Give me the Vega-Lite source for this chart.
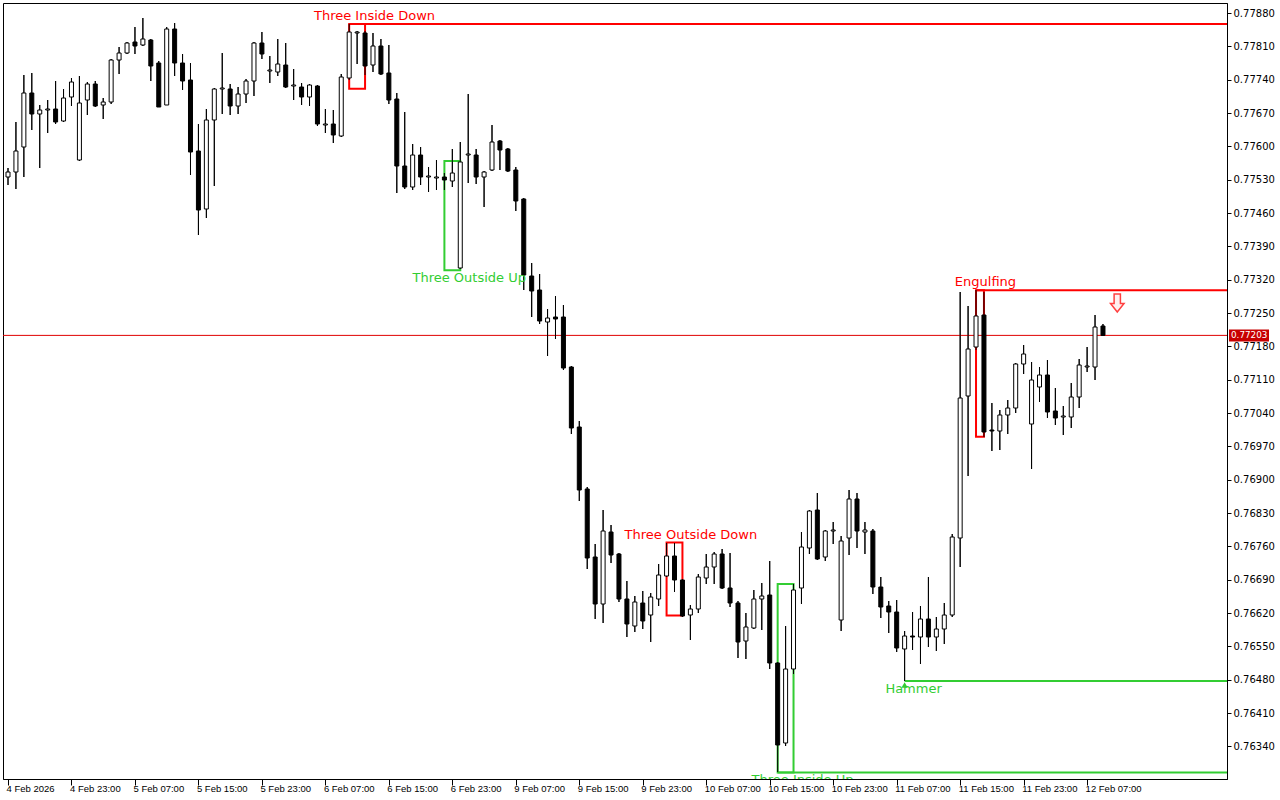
{
  "$schema": "https://vega.github.io/schema/vega-lite/v6.json",
  "width": 1224,
  "height": 776,
  "autosize": {"type": "none"},
  "padding": {"left": 3, "top": 3, "right": 53, "bottom": 21},
  "background": "white",
  "config": {
    "view": {"stroke": "black", "strokeWidth": 1},
    "axis": {"domainWidth": 1, "tickWidth": 1, "domainColor": "black", "tickColor": "black", "grid": false, "labelOverlap": false}
  },
  "datasets": {
    "candles": [
      {"i":0,"open":0.775356,"high":0.775545,"low":0.775188,"close":0.775461},
      {"i":1,"open":0.775461,"high":0.776511,"low":0.775104,"close":0.775902},
      {"i":2,"open":0.775986,"high":0.777498,"low":0.775356,"close":0.777120},
      {"i":3,"open":0.777120,"high":0.777540,"low":0.776343,"close":0.776679},
      {"i":4,"open":0.776679,"high":0.776868,"low":0.775545,"close":0.776763},
      {"i":5,"open":0.776763,"high":0.776973,"low":0.776280,"close":0.776784},
      {"i":6,"open":0.776784,"high":0.777372,"low":0.776469,"close":0.776511},
      {"i":7,"open":0.776532,"high":0.777204,"low":0.776511,"close":0.777015},
      {"i":8,"open":0.777036,"high":0.777435,"low":0.776847,"close":0.777351},
      {"i":9,"open":0.775713,"high":0.777477,"low":0.775692,"close":0.776910},
      {"i":10,"open":0.776973,"high":0.777351,"low":0.776658,"close":0.777309},
      {"i":11,"open":0.777309,"high":0.777372,"low":0.776826,"close":0.776847},
      {"i":12,"open":0.776868,"high":0.777015,"low":0.776574,"close":0.776931},
      {"i":13,"open":0.776931,"high":0.777834,"low":0.776889,"close":0.777813},
      {"i":14,"open":0.777813,"high":0.778086,"low":0.777519,"close":0.777960},
      {"i":15,"open":0.777960,"high":0.778191,"low":0.777939,"close":0.778170},
      {"i":16,"open":0.778191,"high":0.778506,"low":0.777939,"close":0.778107},
      {"i":17,"open":0.778128,"high":0.778695,"low":0.778107,"close":0.778254},
      {"i":18,"open":0.778233,"high":0.778254,"low":0.777372,"close":0.777687},
      {"i":19,"open":0.777750,"high":0.777792,"low":0.776826,"close":0.776826},
      {"i":20,"open":0.776868,"high":0.778506,"low":0.776868,"close":0.778464},
      {"i":21,"open":0.778464,"high":0.778590,"low":0.777477,"close":0.777750},
      {"i":22,"open":0.777750,"high":0.777939,"low":0.777183,"close":0.777372},
      {"i":23,"open":0.777393,"high":0.777750,"low":0.775398,"close":0.775881},
      {"i":24,"open":0.775902,"high":0.776469,"low":0.774138,"close":0.774663},
      {"i":25,"open":0.774684,"high":0.776784,"low":0.774495,"close":0.776553},
      {"i":26,"open":0.776553,"high":0.777225,"low":0.775167,"close":0.777204},
      {"i":27,"open":0.777204,"high":0.777960,"low":0.776679,"close":0.777225},
      {"i":28,"open":0.777204,"high":0.777309,"low":0.776658,"close":0.776847},
      {"i":29,"open":0.776847,"high":0.777246,"low":0.776679,"close":0.777099},
      {"i":30,"open":0.777099,"high":0.777414,"low":0.776910,"close":0.777372},
      {"i":31,"open":0.777372,"high":0.778191,"low":0.777057,"close":0.778170},
      {"i":32,"open":0.778170,"high":0.778401,"low":0.777834,"close":0.777939},
      {"i":33,"open":0.777582,"high":0.777897,"low":0.777330,"close":0.777603},
      {"i":34,"open":0.777561,"high":0.778254,"low":0.777477,"close":0.777729},
      {"i":35,"open":0.777708,"high":0.778170,"low":0.777225,"close":0.777246},
      {"i":36,"open":0.777267,"high":0.777624,"low":0.776973,"close":0.777288},
      {"i":37,"open":0.777246,"high":0.777330,"low":0.776868,"close":0.777036},
      {"i":38,"open":0.777036,"high":0.777309,"low":0.776847,"close":0.777288},
      {"i":39,"open":0.777267,"high":0.777288,"low":0.776427,"close":0.776469},
      {"i":40,"open":0.776448,"high":0.776784,"low":0.776280,"close":0.776469},
      {"i":41,"open":0.776469,"high":0.776763,"low":0.776070,"close":0.776238},
      {"i":42,"open":0.776217,"high":0.777519,"low":0.776196,"close":0.777456},
      {"i":43,"open":0.777435,"high":0.778569,"low":0.777393,"close":0.778401},
      {"i":44,"open":0.778380,"high":0.778422,"low":0.777729,"close":0.778401},
      {"i":45,"open":0.778380,"high":0.778422,"low":0.777498,"close":0.777687},
      {"i":46,"open":0.777708,"high":0.778380,"low":0.777561,"close":0.778107},
      {"i":47,"open":0.778107,"high":0.778254,"low":0.777498,"close":0.777519},
      {"i":48,"open":0.777540,"high":0.778128,"low":0.776889,"close":0.776973},
      {"i":49,"open":0.776994,"high":0.777120,"low":0.775020,"close":0.775587},
      {"i":50,"open":0.775587,"high":0.776721,"low":0.775104,"close":0.775146},
      {"i":51,"open":0.775146,"high":0.776049,"low":0.775083,"close":0.775818},
      {"i":52,"open":0.775818,"high":0.775986,"low":0.775188,"close":0.775356},
      {"i":53,"open":0.775356,"high":0.775566,"low":0.775041,"close":0.775377},
      {"i":54,"open":0.775335,"high":0.775713,"low":0.775083,"close":0.775356},
      {"i":55,"open":0.775356,"high":0.775440,"low":0.775083,"close":0.775293},
      {"i":56,"open":0.775272,"high":0.775944,"low":0.775146,"close":0.775440},
      {"i":57,"open":0.773445,"high":0.776091,"low":0.773424,"close":0.775671},
      {"i":58,"open":0.775818,"high":0.777099,"low":0.775230,"close":0.775839},
      {"i":59,"open":0.775818,"high":0.775944,"low":0.775209,"close":0.775356},
      {"i":60,"open":0.775356,"high":0.775482,"low":0.774726,"close":0.775461},
      {"i":61,"open":0.775503,"high":0.776448,"low":0.775482,"close":0.776091},
      {"i":62,"open":0.776112,"high":0.776133,"low":0.775503,"close":0.775923},
      {"i":63,"open":0.775944,"high":0.775965,"low":0.775461,"close":0.775482},
      {"i":64,"open":0.775503,"high":0.775566,"low":0.774642,"close":0.774852},
      {"i":65,"open":0.774894,"high":0.774915,"low":0.772983,"close":0.773298},
      {"i":66,"open":0.773277,"high":0.773550,"low":0.772416,"close":0.772962},
      {"i":67,"open":0.772983,"high":0.773319,"low":0.772269,"close":0.772332},
      {"i":68,"open":0.772311,"high":0.772584,"low":0.771597,"close":0.772395},
      {"i":69,"open":0.772416,"high":0.772857,"low":0.771954,"close":0.772374},
      {"i":70,"open":0.772416,"high":0.772668,"low":0.771303,"close":0.771345},
      {"i":71,"open":0.771366,"high":0.771387,"low":0.769959,"close":0.770085},
      {"i":72,"open":0.770106,"high":0.770232,"low":0.768552,"close":0.768783},
      {"i":73,"open":0.768804,"high":0.768846,"low":0.767124,"close":0.767355},
      {"i":74,"open":0.767376,"high":0.767649,"low":0.766074,"close":0.766389},
      {"i":75,"open":0.766389,"high":0.768363,"low":0.765990,"close":0.767922},
      {"i":76,"open":0.767901,"high":0.768048,"low":0.767250,"close":0.767418},
      {"i":77,"open":0.767439,"high":0.767460,"low":0.766431,"close":0.766494},
      {"i":78,"open":0.766494,"high":0.766872,"low":0.765696,"close":0.765969},
      {"i":79,"open":0.765927,"high":0.766557,"low":0.765801,"close":0.766431},
      {"i":80,"open":0.766410,"high":0.766662,"low":0.765864,"close":0.766032},
      {"i":81,"open":0.766158,"high":0.766620,"low":0.765591,"close":0.766536},
      {"i":82,"open":0.766494,"high":0.767229,"low":0.766347,"close":0.766998},
      {"i":83,"open":0.766977,"high":0.767670,"low":0.766956,"close":0.767397},
      {"i":84,"open":0.767397,"high":0.767670,"low":0.766641,"close":0.766893},
      {"i":85,"open":0.766893,"high":0.766914,"low":0.766116,"close":0.766137},
      {"i":86,"open":0.766158,"high":0.766368,"low":0.765633,"close":0.766284},
      {"i":87,"open":0.766284,"high":0.767019,"low":0.766200,"close":0.766956},
      {"i":88,"open":0.766935,"high":0.767439,"low":0.766809,"close":0.767166},
      {"i":89,"open":0.767166,"high":0.767481,"low":0.766809,"close":0.767439},
      {"i":90,"open":0.767439,"high":0.767544,"low":0.766704,"close":0.766725},
      {"i":91,"open":0.766725,"high":0.767460,"low":0.766326,"close":0.766410},
      {"i":92,"open":0.766410,"high":0.766452,"low":0.765255,"close":0.765591},
      {"i":93,"open":0.765612,"high":0.766200,"low":0.765234,"close":0.765906},
      {"i":94,"open":0.765885,"high":0.766683,"low":0.765864,"close":0.766494},
      {"i":95,"open":0.766494,"high":0.766830,"low":0.765843,"close":0.766557},
      {"i":96,"open":0.766578,"high":0.767292,"low":0.765024,"close":0.765150},
      {"i":97,"open":0.765150,"high":0.765171,"low":0.762861,"close":0.763428},
      {"i":98,"open":0.763470,"high":0.765927,"low":0.763407,"close":0.765024},
      {"i":99,"open":0.765024,"high":0.766809,"low":0.764919,"close":0.766683},
      {"i":100,"open":0.766725,"high":0.767901,"low":0.766389,"close":0.767586},
      {"i":101,"open":0.767565,"high":0.768363,"low":0.767439,"close":0.768342},
      {"i":102,"open":0.768363,"high":0.768720,"low":0.767313,"close":0.767334},
      {"i":103,"open":0.767376,"high":0.767943,"low":0.767292,"close":0.767922},
      {"i":104,"open":0.767922,"high":0.768111,"low":0.767649,"close":0.767943},
      {"i":105,"open":0.766053,"high":0.767817,"low":0.765822,"close":0.767712},
      {"i":106,"open":0.767775,"high":0.768783,"low":0.767418,"close":0.768594},
      {"i":107,"open":0.768594,"high":0.768720,"low":0.767565,"close":0.767922},
      {"i":108,"open":0.767901,"high":0.768111,"low":0.767439,"close":0.767943},
      {"i":109,"open":0.767922,"high":0.767964,"low":0.766599,"close":0.766746},
      {"i":110,"open":0.766746,"high":0.766956,"low":0.766095,"close":0.766326},
      {"i":111,"open":0.766347,"high":0.766452,"low":0.765780,"close":0.766221},
      {"i":112,"open":0.766221,"high":0.766473,"low":0.765381,"close":0.765465},
      {"i":113,"open":0.765444,"high":0.765822,"low":0.764772,"close":0.765717},
      {"i":114,"open":0.765717,"high":0.766221,"low":0.765423,"close":0.765696},
      {"i":115,"open":0.765696,"high":0.766347,"low":0.765129,"close":0.766074},
      {"i":116,"open":0.766074,"high":0.766956,"low":0.765486,"close":0.765696},
      {"i":117,"open":0.765696,"high":0.766116,"low":0.765402,"close":0.765864},
      {"i":118,"open":0.765864,"high":0.766410,"low":0.765549,"close":0.766158},
      {"i":119,"open":0.766158,"high":0.767859,"low":0.766116,"close":0.767796},
      {"i":120,"open":0.767775,"high":0.772941,"low":0.767166,"close":0.770715},
      {"i":121,"open":0.770757,"high":0.772647,"low":0.769077,"close":0.771744},
      {"i":122,"open":0.771786,"high":0.772983,"low":0.771723,"close":0.772437},
      {"i":123,"open":0.772458,"high":0.772941,"low":0.769896,"close":0.770001},
      {"i":124,"open":0.770043,"high":0.770610,"low":0.769602,"close":0.770022},
      {"i":125,"open":0.770022,"high":0.770463,"low":0.769623,"close":0.770358},
      {"i":126,"open":0.770358,"high":0.770673,"low":0.769959,"close":0.770505},
      {"i":127,"open":0.770505,"high":0.771450,"low":0.770400,"close":0.771429},
      {"i":128,"open":0.771429,"high":0.771828,"low":0.771219,"close":0.771639},
      {"i":129,"open":0.770169,"high":0.771471,"low":0.769224,"close":0.771093},
      {"i":130,"open":0.770946,"high":0.771366,"low":0.770631,"close":0.771198},
      {"i":131,"open":0.771198,"high":0.771513,"low":0.770295,"close":0.770421},
      {"i":132,"open":0.770442,"high":0.770925,"low":0.770148,"close":0.770295},
      {"i":133,"open":0.770316,"high":0.770547,"low":0.769938,"close":0.770337},
      {"i":134,"open":0.770316,"high":0.771030,"low":0.770085,"close":0.770736},
      {"i":135,"open":0.770736,"high":0.771534,"low":0.770505,"close":0.771408},
      {"i":136,"open":0.771366,"high":0.771786,"low":0.771261,"close":0.771387},
      {"i":137,"open":0.771366,"high":0.772458,"low":0.771093,"close":0.772206},
      {"i":138,"open":0.772227,"high":0.772269,"low":0.772017,"close":0.772030}
    ],
    "patterns": [
      {"pattern":"Three Inside Down","signal":"bearish","first":43,"last":45,"top":0.77857,"bottom":0.77721,"levelFrom":43,"level":0.77857,"labelAt":46.19,"labelPrice":0.77874},
      {"pattern":"Three Outside Up","signal":"bullish","first":55,"last":57,"top":0.77569,"bottom":0.7734,"labelAt":58.13,"labelPrice":0.77324},
      {"pattern":"Three Outside Down","signal":"bearish","first":83,"last":85,"top":0.76768,"bottom":0.76615,"labelAt":86.06,"labelPrice":0.76784},
      {"pattern":"Three Inside Up","signal":"bullish","first":97,"last":99,"top":0.76681,"bottom":0.76285,"levelFrom":97,"level":0.76285,"labelAt":100.13,"labelPrice":0.76269},
      {"pattern":"Engulfing","signal":"bearish","first":122,"last":123,"top":0.77298,"bottom":0.7699,"levelFrom":122,"level":0.77298,"labelAt":123.19,"labelPrice":0.77315},
      {"pattern":"Hammer","signal":"bullish","levelFrom":113,"level":0.76477,"labelAt":114.13,"labelPrice":0.7646,"markAt":113,"markPrice":0.76469}
    ],
    "current": [{"price": 0.77203}],
    "arrows": [{"signal": "sell", "i": 139.8, "price": 0.77271}]
  },
  "layer": [
    {
      "data": {"name": "candles"},
      "mark": {"type": "rule", "color": "black", "strokeWidth": 1, "clip": true},
      "encoding": {
        "x": {
          "field": "i", "type": "quantitative", "title": null,
          "scale": {"domain": [0, 153], "nice": false, "zero": false},
          "axis": {
            "orient": "bottom", "title": null, "tickCount": 40,
            "values": [0, 8, 16, 24, 32, 40, 48, 56, 64, 72, 80, 88, 96, 104, 112, 120, 128, 136],
            "labelExpr": "['4 Feb 2026','4 Feb 23:00','5 Feb 07:00','5 Feb 15:00','5 Feb 23:00','6 Feb 07:00','6 Feb 15:00','6 Feb 23:00','9 Feb 07:00','9 Feb 15:00','9 Feb 23:00','10 Feb 07:00','10 Feb 15:00','10 Feb 23:00','11 Feb 07:00','11 Feb 15:00','11 Feb 23:00','12 Feb 07:00'][round(datum.value / 8)]",
            "labelAlign": "left", "labelBaseline": "top", "labelPadding": -2, "labelOffset": -2, "tickSize": 6,
            "labelFont": "Liberation Sans", "labelFontSize": 9.5, "labelColor": "black",
            "labelOverlap": false, "labelFlush": false, "labelBound": false
          }
        },
        "y": {
          "field": "low", "type": "quantitative", "title": null,
          "scale": {"domain": [0.762714, 0.77901], "nice": false, "zero": false},
          "axis": {
            "orient": "right", "title": null, "tickCount": 40,
            "values": [0.7634, 0.7641, 0.7648, 0.7655, 0.7662, 0.7669, 0.7676, 0.7683, 0.769, 0.7697, 0.7704, 0.7711, 0.7718, 0.7725, 0.7732, 0.7739, 0.7746, 0.7753, 0.776, 0.7767, 0.7774, 0.7781, 0.7788],
            "format": ".5f", "tickSize": 4, "labelPadding": 2,
            "labelFont": "DejaVu Sans", "labelFontSize": 10, "labelColor": "black",
            "labelOverlap": false, "labelFlush": false, "labelBound": false
          }
        },
        "y2": {"field": "high"}
      }
    },
    {
      "data": {"name": "current"},
      "mark": {"type": "rule", "color": "#e00000", "strokeWidth": 1},
      "encoding": {
        "y": {"field": "price", "type": "quantitative", "title": null}
      }
    },
    {
      "data": {"name": "patterns"},
      "transform": [{"filter": "isValid(datum.level)"}],
      "mark": {"type": "rule", "strokeWidth": 2, "clip": true},
      "encoding": {
        "x": {"field": "levelFrom", "type": "quantitative", "title": null},
        "x2": {"value": "width"},
        "y": {"field": "level", "type": "quantitative", "title": null},
        "color": {"field": "signal", "type": "nominal", "scale": {"domain": ["bearish", "bullish"], "range": ["#ff0000", "#32cd32"]}, "legend": null}
      }
    },
    {
      "data": {"name": "patterns"},
      "transform": [{"filter": "isValid(datum.first)"}],
      "mark": {"type": "rect", "strokeWidth": 2, "fillOpacity": 0, "clip": true},
      "encoding": {
        "x": {"field": "first", "type": "quantitative", "title": null},
        "x2": {"field": "last"},
        "y": {"field": "top", "type": "quantitative", "title": null},
        "y2": {"field": "bottom"},
        "stroke": {"field": "signal", "type": "nominal", "scale": {"domain": ["bearish", "bullish"], "range": ["#ff0000", "#32cd32"]}, "legend": null}
      }
    },
    {
      "data": {"name": "candles"},
      "mark": {"type": "rule", "color": "black", "strokeWidth": 1, "clip": true},
      "encoding": {
        "x": {"field": "i", "type": "quantitative", "title": null},
        "y": {"field": "low", "type": "quantitative", "title": null},
        "y2": {"field": "high"}
      }
    },
    {
      "data": {"name": "candles"},
      "mark": {"type": "bar", "width": 4, "stroke": "black", "strokeWidth": 1, "clip": true},
      "encoding": {
        "x": {"field": "i", "type": "quantitative", "title": null},
        "y": {"field": "open", "type": "quantitative", "title": null},
        "y2": {"field": "close"},
        "fill": {"condition": {"test": "datum.close >= datum.open", "value": "white"}, "value": "black"}
      }
    },
    {
      "data": {"name": "patterns"},
      "mark": {"type": "text", "font": "DejaVu Sans", "fontSize": 13, "align": "center", "baseline": "middle", "clip": true},
      "encoding": {
        "x": {"field": "labelAt", "type": "quantitative", "title": null},
        "y": {"field": "labelPrice", "type": "quantitative", "title": null},
        "text": {"field": "pattern"},
        "color": {"field": "signal", "type": "nominal", "scale": {"domain": ["bearish", "bullish"], "range": ["#ff0000", "#32cd32"]}, "legend": null}
      }
    },
    {
      "data": {"name": "patterns"},
      "transform": [{"filter": "isValid(datum.markAt)"}],
      "mark": {"type": "point", "shape": "triangle-up", "size": 40, "filled": true, "color": "#32cd32", "opacity": 1},
      "encoding": {
        "x": {"field": "markAt", "type": "quantitative", "title": null},
        "y": {"field": "markPrice", "type": "quantitative", "title": null}
      }
    },
    {
      "data": {"name": "arrows"},
      "mark": {"type": "point", "shape": "M-0.35,-1L0.35,-1L0.35,0.05L0.75,0.05L0,1L-0.75,0.05L-0.35,0.05Z", "size": 324, "fill": "#fff0f0", "stroke": "#ff4040", "strokeWidth": 1.5, "opacity": 1, "fillOpacity": 1},
      "encoding": {
        "x": {"field": "i", "type": "quantitative", "title": null},
        "y": {"field": "price", "type": "quantitative", "title": null}
      }
    },
    {
      "data": {"name": "current"},
      "mark": {"type": "rect", "color": "#c80000", "xOffset": 2, "x2Offset": 42, "yOffset": -6, "y2Offset": 6},
      "encoding": {
        "x": {"value": "width"},
        "x2": {"value": "width"},
        "y": {"field": "price", "type": "quantitative", "title": null},
        "y2": {"field": "price"}
      }
    },
    {
      "data": {"name": "current"},
      "mark": {"type": "text", "align": "left", "baseline": "middle", "dx": 4, "font": "DejaVu Sans", "fontSize": 8.8, "color": "white"},
      "encoding": {
        "x": {"value": "width"},
        "y": {"field": "price", "type": "quantitative", "title": null},
        "text": {"field": "price", "type": "quantitative", "format": ".5f"}
      }
    }
  ]
}
